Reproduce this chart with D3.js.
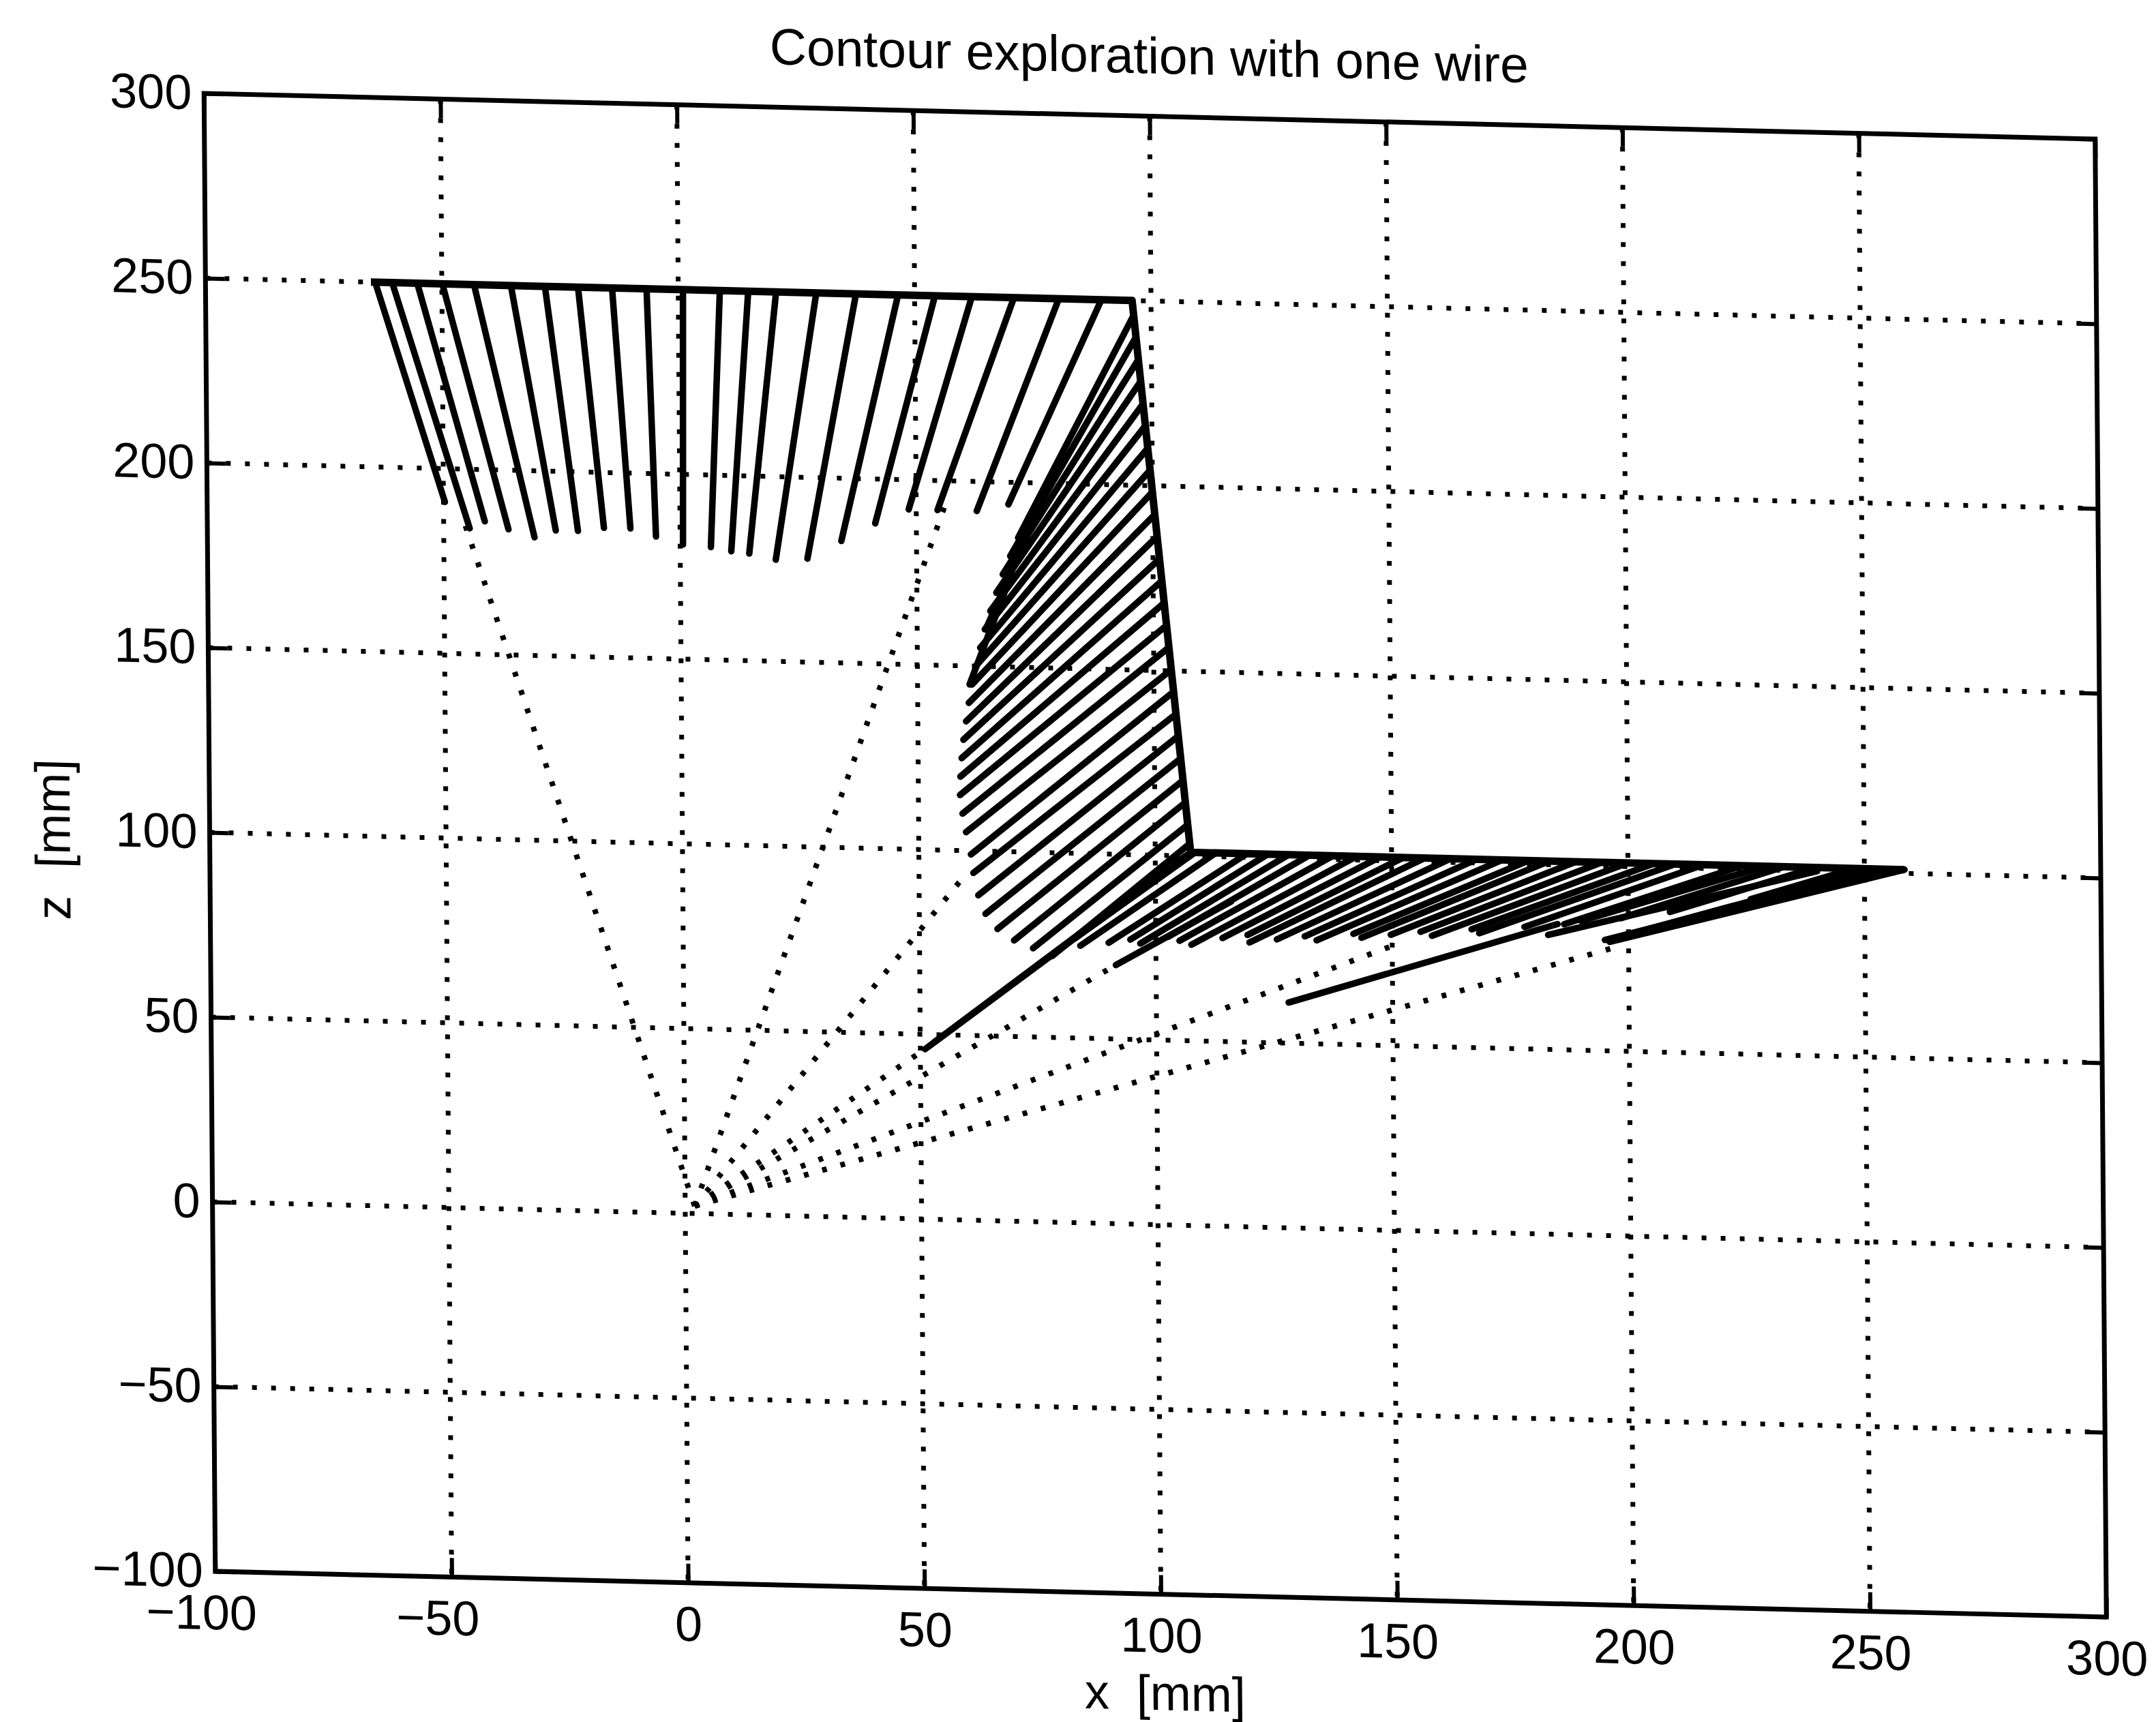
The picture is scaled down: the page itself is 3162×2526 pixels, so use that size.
<!DOCTYPE html>
<html>
<head>
<meta charset="utf-8">
<script src="https://cdn.jsdelivr.net/npm/d3@7"></script>
<style>
  body { margin: 0; background: #fff; }
  text { font-family: "Liberation Sans", Arial, Helvetica, sans-serif; fill: #000; }
</style>
</head>
<body>
<div class="chart"></div>
<script>
// axis ticks (mm)
var xTicks = [-100, -50, 0, 50, 100, 150, 200, 250, 300];
var zTicks = [-100, -50, 0, 50, 100, 150, 200, 250, 300];

// object contour touched by the wire
var contour = [[-65, 250], [96, 250], [107.5, 101], [258.5, 101]];

// wire segments [x1, z1, x2, z2] in mm
var topWires = [
  [-64.1, 250, -49.7, 191], [-60.5, 250, -44.5, 184], [-55.2, 250, -41.3, 186],
  [-49.9, 250, -36.3, 184], [-43.2, 250, -30.8, 182], [-35.4, 250, -26.3, 184],
  [-28.2, 250, -21.6, 184], [-21.2, 250, -16.1, 185], [-14.0, 250, -10.5, 185],
  [-6.7, 250, -5.1, 183], [1.0, 250, 0.6, 181], [8.8, 250, 6.5, 180.5],
  [14.8, 250, 10.8, 179.5], [20.7, 250, 14.6, 179], [29.2, 250, 20.2, 177.5],
  [37.6, 250, 26.9, 178], [46.5, 250, 34.1, 183], [54.3, 250, 41.3, 188],
  [62.1, 250, 48.4, 192], [71.0, 250, 54.5, 192], [80.5, 250, 62.8, 192],
  [89.5, 250, 69.5, 194]
];

var slopeWires = [
  [96.3, 246, 71.5, 185], [96.7, 240, 69.8, 180], [97.2, 234, 68.2, 175],
  [97.6, 228, 66.8, 170], [98.1, 222, 65.5, 165], [98.5, 216, 64.3, 160],
  [99.0, 210, 63.3, 155], [99.4, 204, 62.3, 150], [99.8, 198, 61.5, 145],
  [100.3, 192, 60.8, 140], [100.7, 186, 60.2, 135], [101.2, 180, 59.6, 130],
  [101.6, 174, 59.2, 125], [102.0, 168, 58.9, 120], [102.5, 162, 58.8, 115],
  [102.9, 156, 59.3, 110], [103.4, 150, 60.0, 105], [103.8, 144, 61.0, 99],
  [104.3, 138, 61.5, 94], [104.7, 132, 62.5, 88], [105.2, 126, 64.0, 83],
  [105.6, 120, 66.5, 79], [106.0, 114, 70.0, 76], [106.5, 108, 74.0, 74],
  [107.0, 103, 78.0, 72],
  [75.0, 190, 64.5, 160], [68.5, 170, 61.0, 145]
];

var flatWires = [
  [108.4, 101, 82.9, 77], [112.8, 101, 84.0, 75], [119.4, 101, 90.0, 76],
  [123.8, 101, 94.6, 77], [128.2, 101, 96.7, 76], [132.6, 101, 102.6, 78],
  [137.6, 101, 105.0, 77], [142.6, 101, 107.5, 76], [147.6, 101, 114.1, 78],
  [152.5, 101, 119.4, 79], [157.0, 101, 119.8, 77], [162.5, 101, 125.6, 78],
  [168.0, 101, 131.5, 79], [173.4, 101, 134.0, 78], [179.0, 101, 141.8, 80],
  [183.4, 101, 143.5, 79], [189.0, 101, 149.7, 80], [194.5, 101, 156.0, 81],
  [200.0, 101, 158.4, 80], [205.5, 101, 166.8, 82], [210.0, 101, 168.4, 81],
  [216.0, 101, 178.0, 83], [224.2, 101, 186.4, 84], [229.0, 101, 190.0, 85],
  [233.0, 101, 198.4, 86], [239.7, 101, 208.8, 88], [248.0, 101, 225.9, 92],
  [258.5, 101, 196.0, 79.5], [254.0, 101, 195.0, 80], [251.0, 101, 197.0, 80.5],
  [240.0, 100, 183.0, 81], [128.0, 61, 185.0, 84], [107.5, 101, 51.0, 46],
  [105.0, 99, 53.0, 48], [91.5, 70, 116.0, 88]
];

// dotted full-wire lines from the sensor base
var sensor = [2, 2];
var dottedEnds = [[-45.5, 185], [56, 193], [59.5, 93], [51, 46], [91.5, 70], [150, 77], [197, 78]];

// layout: scanned page is slightly sheared, so the plot box is an affine frame
var W = 2773.5, H = 2168;
var frame = [1, 0.02416, 0.00761, 1, 299.25, 137];

var svg = d3.select(".chart")
  .append("svg")
  .attr("width", 3162)
  .attr("height", 2526)
  .style("background", "#fff");

var g = svg.append("g")
  .attr("transform", "matrix(" + frame.join(",") + ")");

var x = d3.scaleLinear().domain([-100, 300]).range([0, W]);
var z = d3.scaleLinear().domain([-100, 300]).range([H, 0]);

// grid
var grid = g.append("g").attr("class", "grid")
  .attr("stroke", "#000").attr("stroke-width", 7).attr("stroke-dasharray", "7 21");
grid.selectAll(".gx")
  .data(xTicks.slice(1, -1))
  .enter().append("line")
  .attr("x1", d => x(d)).attr("x2", d => x(d))
  .attr("y1", 0).attr("y2", H);
grid.selectAll(".gz")
  .data(zTicks.slice(1, -1))
  .enter().append("line")
  .attr("x1", 0).attr("x2", W)
  .attr("y1", d => z(d)).attr("y2", d => z(d));

// axes with inward ticks
var fmt = d3.format("d");
var bottom = g.append("g").attr("transform", "translate(0," + H + ")")
  .call(d3.axisBottom(x).tickValues(xTicks).tickFormat(fmt).tickSizeInner(-28).tickSizeOuter(0).tickPadding(34));
var left = g.append("g")
  .call(d3.axisLeft(z).tickValues(zTicks).tickFormat(fmt).tickSizeInner(-28).tickSizeOuter(0).tickPadding(18));
g.append("g")
  .call(d3.axisTop(x).tickValues(xTicks).tickFormat("").tickSizeInner(-28).tickSizeOuter(0));
g.append("g").attr("transform", "translate(" + W + ",0)")
  .call(d3.axisRight(z).tickValues(zTicks).tickFormat("").tickSizeInner(-28).tickSizeOuter(0));

g.selectAll(".domain").remove();
g.selectAll(".tick line").attr("stroke", "#000").attr("stroke-width", 6);
g.selectAll(".tick text").attr("font-size", 72).attr("fill", "#000")
  .style("font-family", "'Liberation Sans', Arial, sans-serif");
bottom.selectAll(".tick text").attr("dx", d => d < 0 ? -21 : 0);

g.append("rect")
  .attr("x", 0).attr("y", 0).attr("width", W).attr("height", H)
  .attr("fill", "none").attr("stroke", "#000").attr("stroke-width", 7);

// dotted wires
g.append("g")
  .selectAll("line")
  .data(dottedEnds)
  .enter().append("line")
  .attr("x1", x(sensor[0])).attr("y1", z(sensor[1]))
  .attr("x2", d => x(d[0])).attr("y2", d => z(d[1]))
  .attr("stroke", "#000").attr("stroke-width", 8).attr("stroke-dasharray", "7 21");

// solid wire pieces
var wires = topWires.concat(slopeWires, flatWires);
g.append("g")
  .selectAll("line")
  .data(wires)
  .enter().append("line")
  .attr("x1", d => x(d[0])).attr("y1", d => z(d[1]))
  .attr("x2", d => x(d[2])).attr("y2", d => z(d[3]))
  .attr("stroke", "#000").attr("stroke-width", 9.5).attr("stroke-linecap", "round");

g.append("path")
  .datum(contour)
  .attr("d", d3.line().x(d => x(d[0])).y(d => z(d[1])))
  .attr("fill", "none").attr("stroke", "#000").attr("stroke-width", 11)
  .attr("stroke-linejoin", "round");

// labels
g.append("text")
  .attr("x", W / 2).attr("y", -63)
  .attr("text-anchor", "middle").attr("font-size", 75)
  .text("Contour exploration with one wire");

g.append("text")
  .attr("x", 1392).attr("y", H + 170)
  .attr("text-anchor", "middle").attr("font-size", 72)
  .style("white-space", "pre")
  .text("x  [mm]");

g.append("text")
  .attr("transform", "translate(-205,1100) rotate(-90)")
  .attr("text-anchor", "middle").attr("font-size", 72)
  .style("white-space", "pre")
  .text("z  [mm]");
</script>
</body>
</html>
